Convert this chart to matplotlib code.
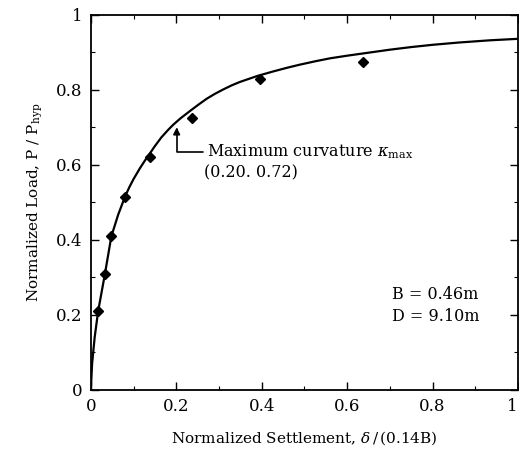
import matplotlib
matplotlib.use("Agg")
import matplotlib.pyplot as plt
from matplotlib.ticker import MultipleLocator

# Measured data points (normalized settlement, normalized load)
meas_x = [0.017, 0.033, 0.048, 0.080, 0.138, 0.236, 0.396, 0.638]
meas_y = [0.209, 0.309, 0.409, 0.515, 0.622, 0.724, 0.828, 0.873]

# Fitted hyperbolic curve
curve_x = [0.0, 0.003, 0.009, 0.017, 0.033, 0.048, 0.064, 0.080, 0.090, 0.100,
           0.115, 0.127, 0.138, 0.150, 0.165, 0.180, 0.193, 0.210, 0.235,
           0.255, 0.271, 0.290, 0.310, 0.330, 0.349, 0.390, 0.427, 0.460,
           0.489, 0.525, 0.560, 0.600, 0.650, 0.700, 0.750, 0.800, 0.860,
           0.934, 1.0]
curve_y = [0.0, 0.07, 0.14, 0.209, 0.309, 0.409, 0.467, 0.515, 0.540, 0.562,
           0.591, 0.612, 0.630, 0.650, 0.673, 0.692, 0.707, 0.724, 0.746,
           0.763, 0.776, 0.789, 0.801, 0.812, 0.821, 0.837, 0.849, 0.859,
           0.867, 0.876, 0.884, 0.891, 0.899, 0.907, 0.914, 0.920, 0.926,
           0.932, 0.936]

x_ticks = [0, 0.2, 0.4, 0.6, 0.8, 1.0]
x_tick_labels = ["0", "0.2", "0.4", "0.6", "0.8", "1"]
y_ticks = [0, 0.2, 0.4, 0.6, 0.8, 1.0]
y_tick_labels = ["0", "0.2", "0.4", "0.6", "0.8", "1"]

plt.rcParams['font.family'] = ['DejaVu Serif']
plt.rcParams['mathtext.fontset'] = 'dejavuserif'

fig = plt.figure(figsize=(5.19, 4.63), dpi=100)
ax = fig.add_axes([0.175, 0.158, 0.823, 0.81])

ax.plot(curve_x, curve_y, color='black', lw=1.6)
ax.plot(meas_x, meas_y, linestyle='none', marker='D', ms=5, color='black')

ax.set_xlim(0, 1)
ax.set_ylim(0, 1)
ax.set_xticks(x_ticks)
ax.set_xticklabels(x_tick_labels)
ax.set_yticks(y_ticks)
ax.set_yticklabels(y_tick_labels)
ax.xaxis.set_minor_locator(MultipleLocator(0.1))
ax.yaxis.set_minor_locator(MultipleLocator(0.1))
ax.tick_params(which='both', direction='in', top=True, right=True,
               labelsize=12, colors='black')
ax.tick_params(which='major', length=6, width=1)
ax.tick_params(which='minor', length=3, width=0.8)
ax.tick_params(axis='x', pad=6)
ax.tick_params(axis='y', pad=6)
ax.get_xticklabels()[-1].set_horizontalalignment('right')
for s in ax.spines.values():
    s.set_linewidth(1.3)

ax.set_xlabel(r"Normalized Settlement, $\delta\,/\,$(0.14B)", fontsize=11, labelpad=10)
ax.set_ylabel(r"Normalized Load, P / P$_{\mathrm{hyp}}$", fontsize=11, labelpad=8)

ax.annotate(r"Maximum curvature $\kappa_{\mathrm{max}}$",
            xy=(0.201, 0.70), xytext=(0.272, 0.635),
            textcoords='data', fontsize=11.5, va='center', ha='left',
            arrowprops=dict(arrowstyle='-|>', color='black', lw=1.2,
                            mutation_scale=10, shrinkA=1, shrinkB=0,
                            connectionstyle="angle,angleA=0,angleB=90,rad=0"))
ax.text(0.265, 0.578, "(0.20. 0.72)", fontsize=11.5, va='center', ha='left')

ax.text(0.705, 0.255, "B = 0.46m", fontsize=11.5, va='center', ha='left')
ax.text(0.705, 0.195, "D = 9.10m", fontsize=11.5, va='center', ha='left')

fig.savefig("out.png", dpi=100)
